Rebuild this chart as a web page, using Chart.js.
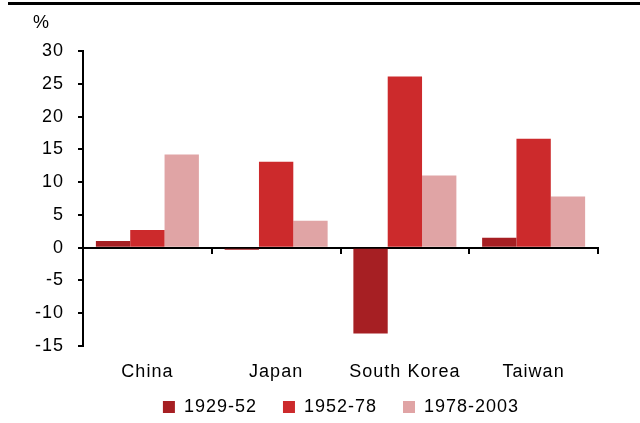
<!DOCTYPE html>
<html>
<head>
<meta charset="utf-8">
<script src="https://cdn.jsdelivr.net/npm/chart.js@4.4.1/dist/chart.umd.min.js"></script>
<style>
  html, body { margin: 0; padding: 0; background: #fff; }
  #wrap { width: 640px; height: 423px; position: relative; }
</style>
</head>
<body>
<div id="wrap"><canvas id="chart"></canvas></div>
<script>
// ===== DATA =====
const categories = ['China', 'Japan', 'South Korea', 'Taiwan'];
const seriesNames = ['1929-52', '1952-78', '1978-2003'];
const growth1929 = [1.0, -0.3, -13.1, 1.5];
const growth1952 = [2.7, 13.1, 26.1, 16.6];
const growth1978 = [14.2, 4.1, 11.0, 7.8];
const yTicks = [-15, -10, -5, 0, 5, 10, 15, 20, 25, 30];

const colors = ['#A61F23', '#CC2A2C', '#E0A4A5'];
const FONT = { family: 'Liberation Sans, Arial, sans-serif', size: 18 };

// slightly spaced lettering, like the original
const spacing = {
    id: 'spacing',
    beforeInit(chart) { chart.ctx.letterSpacing = '1px'; },
    beforeDraw(chart) { chart.ctx.letterSpacing = '1px'; }
};

// top rule + "%" unit label, legend nudge
const extras = {
    id: 'extras',
    afterLayout(chart) {
        // legend sits a bit left of the plot centre in the original
        if (chart.legend) { chart.legend.left -= 11; chart.legend.right -= 11; }
    },
    afterDraw(chart) {
        const ctx = chart.ctx;
        ctx.save();
        ctx.strokeStyle = '#000';
        ctx.lineWidth = 3;
        ctx.beginPath();
        ctx.moveTo(8, 3.5);
        ctx.lineTo(640, 3.5);
        ctx.stroke();
        ctx.fillStyle = '#000';
        ctx.font = '18px ' + FONT.family;
        ctx.textBaseline = 'middle';
        ctx.fillText('%', 33, 23);
        ctx.restore();
    }
};

new Chart(document.getElementById('chart').getContext('2d'), {
    type: 'bar',
    data: {
        labels: categories,
        datasets: [
            { label: seriesNames[0], data: growth1929, backgroundColor: colors[0] },
            { label: seriesNames[1], data: growth1952, backgroundColor: colors[1] },
            { label: seriesNames[2], data: growth1978, backgroundColor: colors[2] }
        ]
    },
    options: {
        responsive: true,
        maintainAspectRatio: false,
        animation: false,
        devicePixelRatio: 1,
        layout: { padding: { top: 51, right: 42, left: 24, bottom: -3 } },
        datasets: { bar: { categoryPercentage: 0.8, barPercentage: 1.0, borderWidth: 0 } },
        scales: {
            x: {
                grid: { display: false },
                border: { display: false },
                ticks: { color: '#000', font: FONT, padding: 7 },
                afterFit: scale => {
                    // let the legend tuck under the labels, and don't clip them
                    scale.height = 26;
                    scale._computeLabelArea = () => undefined;
                }
            },
            x2: {
                type: 'category',
                labels: categories,
                position: { y: 0 },
                offset: true,
                grid: { display: true, drawOnChartArea: false, drawTicks: true, tickLength: 5, color: '#000', lineWidth: 2, offset: true },
                border: { display: true, color: '#000', width: 2 },
                ticks: { display: false }
            },
            y: {
                min: -15,
                max: 30,
                afterBuildTicks: axis => { axis.ticks = yTicks.map(v => ({ value: v })); },
                grid: { drawOnChartArea: false, drawTicks: true, tickLength: 5, color: '#000', lineWidth: 2 },
                border: { display: true, color: '#000', width: 2 },
                ticks: { color: '#000', font: FONT, padding: 14 }
            }
        },
        plugins: {
            legend: {
                position: 'bottom',
                fullSize: false,
                labels: { color: '#000', font: FONT, boxWidth: 12, boxHeight: 12, padding: 26 }
            },
            tooltip: { enabled: false }
        }
    },
    plugins: [spacing, extras]
});
</script>
</body>
</html>
